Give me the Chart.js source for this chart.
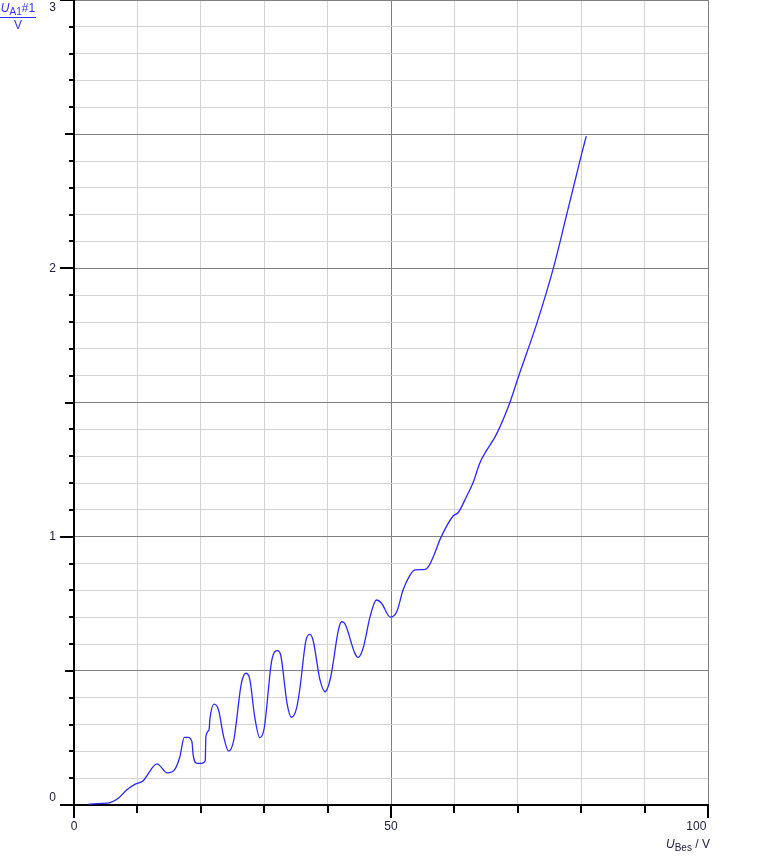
<!DOCTYPE html>
<html>
<head>
<meta charset="utf-8">
<title>U_A1 vs U_Bes</title>
<script src="https://cdn.jsdelivr.net/npm/chart.js@4"></script>
<style>
  body { margin: 0; background: #fff; }
  #wrap { position: relative; width: 768px; height: 856px; }
  #ytitle {
    position: absolute; left: 0; top: 1px; width: 36px;
    font: 12px "Liberation Sans", Arial, sans-serif; color: #3030ff; text-align: center;
  }
  #ytitle .num { white-space: nowrap; line-height: 14px; }
  #ytitle .bar { height: 1px; background: #3030ff; margin: 2px 0 1px 0; }
  #ytitle .den { line-height: 13px; }
  #xtitle {
    position: absolute; left: 666px; top: 837px;
    font: 12px "Liberation Sans", Arial, sans-serif; color: #202040; white-space: nowrap;
  }
  sub { font-size: 10px; vertical-align: -3px; line-height: 0; }
</style>
</head>
<body>
<div id="wrap">
  <canvas id="chart" width="768" height="856"></canvas>
  <div id="ytitle"><div class="num"><i>U</i><sub>A1</sub>#1</div><div class="bar"></div><div class="den">V</div></div>
  <div id="xtitle"><i>U</i><sub>Bes</sub> / V</div>
</div>
<script>
const uBes = [2.3, 4.4, 5.7, 7.0, 8.3, 9.6, 10.9, 12.5, 13.1, 14.7, 15.9, 16.7, 17.4, 18.0, 18.6, 18.8,
  19.4, 20.1, 20.7, 20.8, 21.3, 21.45, 22.1, 22.8, 23.6, 24.4, 25.2, 26.4, 27.1, 27.7, 28.5, 29.3,
  30.0, 31.2, 32.1, 32.6, 33.6, 34.3, 35.1, 35.6, 36.6, 37.2, 37.7, 38.8, 39.6, 40.5, 41.7, 42.2,
  42.7, 44.3, 44.8, 45.6, 46.7, 47.7, 48.5, 49.9, 50.9, 51.9, 53.0, 53.8, 55.4, 55.9, 56.9, 57.7,
  59.8, 60.6, 61.9, 63.0, 64.0, 66.7, 68.8, 70.1, 73.0, 75.6, 77.7, 80.1, 80.8];
const uA1 = [0.003, 0.006, 0.009, 0.025, 0.056, 0.077, 0.09, 0.143, 0.153, 0.12, 0.133, 0.18, 0.252, 0.252, 0.236, 0.186,
  0.155, 0.155, 0.165, 0.255, 0.28, 0.323, 0.376, 0.354, 0.255, 0.201, 0.242, 0.453, 0.491, 0.472, 0.329, 0.251,
  0.286, 0.54, 0.575, 0.559, 0.379, 0.327, 0.36, 0.429, 0.615, 0.636, 0.615, 0.466, 0.422, 0.478, 0.652, 0.683,
  0.677, 0.565, 0.55, 0.584, 0.702, 0.764, 0.752, 0.70, 0.72, 0.801, 0.857, 0.876, 0.878, 0.888, 0.938, 0.988,
  1.077, 1.09, 1.149, 1.205, 1.274, 1.385, 1.503, 1.596, 1.795, 2.0, 2.199, 2.429, 2.493];

const xMin = 0, xMax = 100, xStep = 10;
const yMin = 0, yMax = 3, yStep = 0.1;
const xLabels = { 0: '0', 50: '50', 100: '100       ' };
const yLabels = { 0: ['0', ''], 1: '1', 2: '2', 3: ['', '3'] };

const fontSpec = { family: '"Liberation Sans", Arial, sans-serif', size: 12 };
const labelColor = '#202040';

function near(v, step) {
  return Math.abs(v / step - Math.round(v / step)) < 1e-6;
}

// Skalenstriche selbst zeichnen (unterschiedliche Längen)
const tickMarks = {
  id: 'tickMarks',
  afterDraw(chart) {
    const { ctx, chartArea, scales } = chart;
    const x = scales.x, y = scales.y;
    ctx.save();
    ctx.strokeStyle = '#000';
    ctx.lineWidth = 2;
    ctx.beginPath();
    y.ticks.forEach(t => {
      const py = Math.round(y.getPixelForValue(t.value));
      const len = near(t.value, 1) ? 14 : near(t.value, 0.5) ? 9 : 5;
      ctx.moveTo(chartArea.left - len, py);
      ctx.lineTo(chartArea.left, py);
    });
    x.ticks.forEach(t => {
      const px = Math.round(x.getPixelForValue(t.value));
      const len = near(t.value, 50) ? 13 : 8;
      ctx.moveTo(px, chartArea.bottom);
      ctx.lineTo(px, chartArea.bottom + len);
    });
    ctx.stroke();
    ctx.restore();
  }
};

const points = uBes.map((v, i) => ({ x: v, y: uA1[i] }));

new Chart(document.getElementById('chart'), {
  type: 'line',
  data: {
    datasets: [{
      data: points,
      borderColor: '#2828ff',
      borderWidth: 1.3,
      pointRadius: 0,
      cubicInterpolationMode: 'monotone',
      fill: false
    }]
  },
  options: {
    responsive: false,
    animation: false,
    events: [],
    layout: { padding: { top: 0, right: 60, left: 0, bottom: 0 } },
    plugins: { legend: { display: false }, tooltip: { enabled: false } },
    scales: {
      x: {
        type: 'linear',
        min: xMin, max: xMax,
        ticks: {
          stepSize: xStep,
          autoSkip: false,
          maxRotation: 0,
          padding: 14,
          color: labelColor,
          font: fontSpec,
          callback: v => xLabels[v] !== undefined ? xLabels[v] : ''
        },
        grid: {
          drawTicks: false,
          color: c => near(c.tick.value, 50) ? '#808080' : '#d3d3d3',
          lineWidth: 1
        },
        border: { color: '#000', width: 2 },
        afterFit(scale) {
          scale.height = 51;
          scale.paddingLeft = 0;
          scale.paddingRight = 0;
        }
      },
      y: {
        type: 'linear',
        min: yMin, max: yMax,
        ticks: {
          stepSize: yStep,
          autoSkip: false,
          padding: 18,
          color: labelColor,
          font: fontSpec,
          callback: v => {
            const k = Math.round(v * 10) / 10;
            return yLabels[k] !== undefined && near(v, 1) ? yLabels[k] : '';
          }
        },
        grid: {
          drawTicks: false,
          color: c => near(c.tick.value, 0.5) ? '#808080' : '#d3d3d3',
          lineWidth: 1
        },
        border: { color: '#000', width: 2 },
        afterFit(scale) {
          scale.width = 74;
          scale.paddingTop = 0;
          scale.paddingBottom = 0;
        }
      }
    }
  },
  plugins: [tickMarks]
});
</script>
</body>
</html>
